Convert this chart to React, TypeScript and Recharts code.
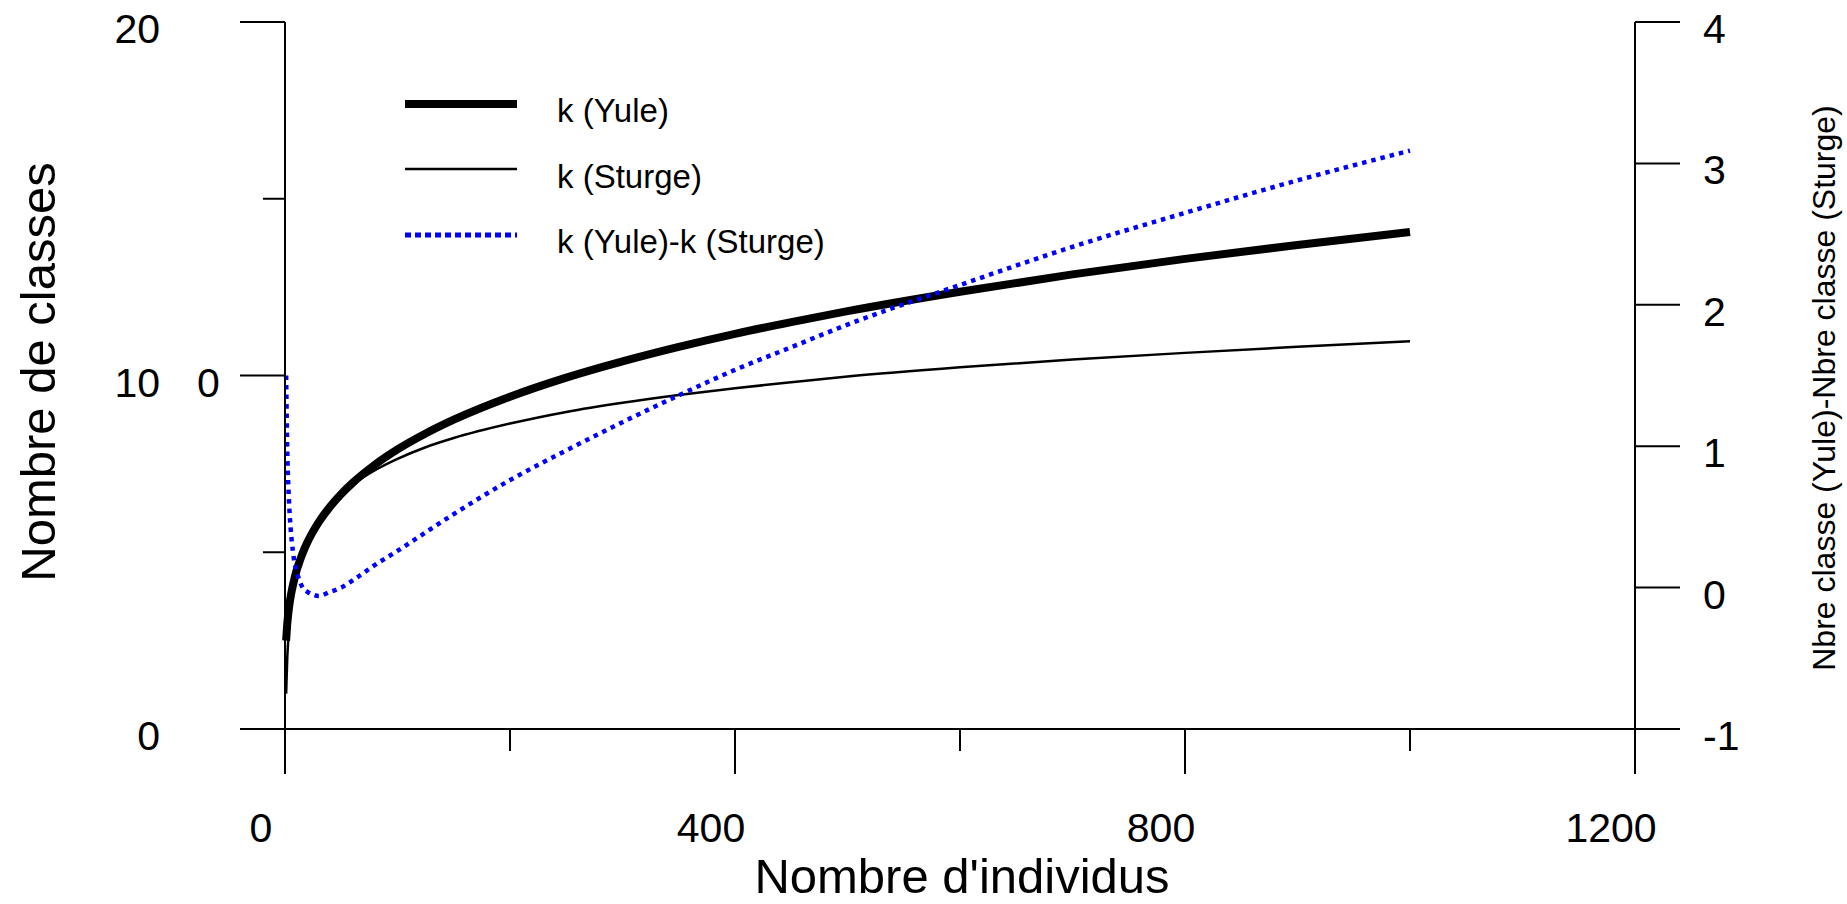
import { LineChart, Line, XAxis, YAxis, Legend, Label } from 'recharts';

const individus = [1, 2, 3, 4, 5, 6, 8, 10, 12, 15, 20, 25, 30, 40, 50, 60, 80, 100, 125, 150, 200, 250, 300, 350, 400, 450, 500, 600, 700, 800, 900, 1000];
const kYule = [2.5, 2.97, 3.29, 3.54, 3.74, 3.91, 4.2, 4.45, 4.65, 4.92, 5.29, 5.59, 5.85, 6.29, 6.65, 6.96, 7.48, 7.91, 8.36, 8.75, 9.4, 9.94, 10.4, 10.81, 11.18, 11.51, 11.82, 12.37, 12.86, 13.3, 13.69, 14.06];
const kSturge = [1.0, 2.0, 2.58, 3.0, 3.32, 3.58, 4.0, 4.32, 4.58, 4.91, 5.32, 5.64, 5.91, 6.32, 6.64, 6.91, 7.32, 7.64, 7.97, 8.23, 8.64, 8.97, 9.23, 9.45, 9.64, 9.81, 9.97, 10.23, 10.45, 10.64, 10.81, 10.97];
const kDiff = [1.5, 0.97, 0.71, 0.54, 0.42, 0.33, 0.2, 0.12, 0.07, 0.01, -0.03, -0.05, -0.06, -0.03, 0.0, 0.05, 0.16, 0.26, 0.39, 0.52, 0.76, 0.97, 1.17, 1.36, 1.54, 1.7, 1.86, 2.14, 2.41, 2.65, 2.88, 3.09];

const xTicks = [0, 200, 400, 600, 800, 1000, 1200];
const leftTicks = [0, 5, 10, 15, 20];
const rightTicks = [-1, 0, 1, 2, 3, 4];
const legendLabels = ['k (Yule)', 'k (Sturge)', 'k (Yule)-k (Sturge)'];

const data = individus.map((n, i) => ({ n, yule: kYule[i], sturge: kSturge[i], diff: kDiff[i] }));

const FONT = '"Liberation Sans", Arial, sans-serif';

// ticks drawn by hand so the minor ones can be shorter
const LeftTick = (props: any) => {
  const { x, y, payload } = props;
  const v = payload.value;
  const major = v % 10 === 0;
  return (
    <g>
      <line x1={x - (major ? 45 : 22)} x2={x} y1={y} y2={y} stroke="#000" strokeWidth={2} />
      {major && (
        <text x={x - 125} y={y + 21} textAnchor="end" fontSize={41} fill="#000" fontFamily={FONT}>
          {v}
        </text>
      )}
      {v === 10 && (
        <text x={x - 88} y={y + 21} textAnchor="start" fontSize={41} fill="#000" fontFamily={FONT}>
          0
        </text>
      )}
    </g>
  );
};

const RightTick = (props: any) => {
  const { x, y, payload } = props;
  return (
    <g>
      <line x1={x} x2={x + 45} y1={y} y2={y} stroke="#000" strokeWidth={2} />
      <text x={x + 68} y={y + 21} textAnchor="start" fontSize={41} fill="#000" fontFamily={FONT}>
        {payload.value}
      </text>
    </g>
  );
};

const BottomTick = (props: any) => {
  const { x, y, payload } = props;
  const v = payload.value;
  const major = v % 400 === 0;
  return (
    <g>
      <line x1={x} x2={x} y1={y} y2={y + (major ? 45 : 22)} stroke="#000" strokeWidth={2} />
      {major && (
        <text x={x - 24} y={y + 113} textAnchor="middle" fontSize={41} fill="#000" fontFamily={FONT}>
          {v}
        </text>
      )}
    </g>
  );
};

const renderLegend = () => (
  <svg width={540} height={220} style={{ fontFamily: FONT }}>
    <line x1={25} x2={137} y1={44} y2={44} stroke="#000" strokeWidth={8} />
    <text x={177} y={62} fontSize={33} fill="#000">{legendLabels[0]}</text>
    <line x1={25} x2={137} y1={109} y2={109} stroke="#000" strokeWidth={2.5} />
    <text x={177} y={128} fontSize={33} fill="#000">{legendLabels[1]}</text>
    <line x1={25} x2={137} y1={175} y2={175} stroke="#0000ff" strokeWidth={5} strokeDasharray="6 4" />
    <text x={177} y={193} fontSize={33} fill="#000">{legendLabels[2]}</text>
  </svg>
);

const App = () => {
  return (
    <div style={{ position: 'absolute', left: 0, top: 0, fontFamily: FONT }}>
      <LineChart width={1847} height={904} data={data} margin={{ top: 22, right: 0, bottom: 0, left: 0 }}>
        <XAxis
          dataKey="n"
          type="number"
          domain={[0, 1200]}
          ticks={xTicks}
          interval={0}
          height={175}
          tickSize={0}
          tickMargin={0}
          tickLine={false}
          tick={<BottomTick />}
          axisLine={{ stroke: '#000', strokeWidth: 2 }}
        >
          <Label
            content={({ viewBox }: any) => (
              <text x={viewBox.x + viewBox.width / 2 + 2} y={viewBox.y + 164} textAnchor="middle" fontSize={49} fill="#000" fontFamily={FONT}>
                Nombre d'individus
              </text>
            )}
          />
        </XAxis>
        <YAxis
          yAxisId="left"
          orientation="left"
          domain={[0, 20]}
          ticks={leftTicks}
          interval={0}
          width={285}
          tickSize={0}
          tickMargin={0}
          tickLine={false}
          tick={<LeftTick />}
          axisLine={{ stroke: '#000', strokeWidth: 2 }}
        >
          <Label
            content={({ viewBox }: any) => {
              const cx = viewBox.x + 55;
              const cy = viewBox.y + 350;
              return (
                <text x={cx} y={cy} transform={`rotate(-90, ${cx}, ${cy})`} textAnchor="middle" fontSize={49} fill="#000" fontFamily={FONT}>
                  Nombre de classes
                </text>
              );
            }}
          />
        </YAxis>
        <YAxis
          yAxisId="right"
          orientation="right"
          domain={[-1, 4]}
          ticks={rightTicks}
          interval={0}
          width={212}
          tickSize={0}
          tickMargin={0}
          tickLine={false}
          tick={<RightTick />}
          axisLine={{ stroke: '#000', strokeWidth: 2 }}
        >
          <Label
            content={({ viewBox }: any) => {
              const cx = viewBox.x + 200;
              const cy = viewBox.y + 366;
              return (
                <text x={cx} y={cy} transform={`rotate(-90, ${cx}, ${cy})`} textAnchor="middle" fontSize={32} fill="#000" fontFamily={FONT}>
                  Nbre classe (Yule)-Nbre classe (Sturge)
                </text>
              );
            }}
          />
        </YAxis>
        <Legend
          layout="horizontal"
          verticalAlign="middle"
          align="center"
          content={renderLegend}
          wrapperStyle={{ left: 380, top: 60, width: 540, height: 220 }}
        />
        <Line yAxisId="left" type="monotone" dataKey="yule" stroke="#000" strokeWidth={8} dot={false} isAnimationActive={false} />
        <Line yAxisId="left" type="monotone" dataKey="sturge" stroke="#000" strokeWidth={2.5} dot={false} isAnimationActive={false} />
        <Line
          yAxisId="right"
          type="monotone"
          dataKey="diff"
          stroke="#0000ff"
          strokeWidth={4.5}
          strokeDasharray="4.5 5"
          dot={false}
          isAnimationActive={false}
        />
      </LineChart>
    </div>
  );
};

export default App;
